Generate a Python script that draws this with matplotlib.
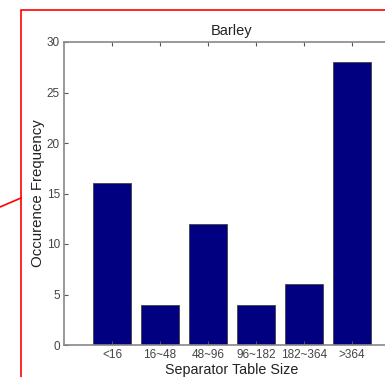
import matplotlib.pyplot as plt
from matplotlib.patches import Rectangle
from matplotlib.lines import Line2D

plt.rcParams['font.family'] = ['Liberation Sans', 'DejaVu Sans']

sizes = ['<16', '16~48', '48~96', '96~182', '182~364', '>364']
freq = [16, 4, 12, 4, 6, 28]

fig = plt.figure(figsize=(3.85, 3.77), dpi=100)
ax = fig.add_axes([64/385, 32/377, 336/385, 303/377])

pos = list(range(1, len(sizes) + 1))
ax.bar(pos, freq, width=0.8, color='#000080', edgecolor='#444444', linewidth=0.6)
ax.set_xlim(0, 7)
ax.set_ylim(0, 30)
ax.set_xticks(pos)
ax.set_xticklabels(sizes)
ax.set_yticks([0, 5, 10, 15, 20, 25, 30])
ax.tick_params(direction='in', length=3, color='#555555', labelcolor='#444444',
               labelsize=8.5, top=True, right=True, pad=3)
for s in ax.spines.values():
    s.set_color('#888888')
    s.set_linewidth(1.2)
ax.set_title('Barley', fontsize=10.5, pad=5, color='#222222')
ax.set_xlabel('Separator Table Size', fontsize=10.3, labelpad=1, color='#222222')
ax.set_ylabel('Occurence Frequency', fontsize=10.8, labelpad=1, color='#222222')

# red frame and leader line
fig.add_artist(Rectangle((21/385, -0.1), 1.2, (377 - 10)/377 + 0.1, transform=fig.transFigure,
                         fill=False, edgecolor='red', linewidth=1.2, clip_on=False))
fig.add_artist(Line2D([0, 21/385], [(377 - 207)/377, (377 - 198)/377], transform=fig.transFigure,
                      color='red', linewidth=1.2))

fig.savefig('out.png', dpi=100)
